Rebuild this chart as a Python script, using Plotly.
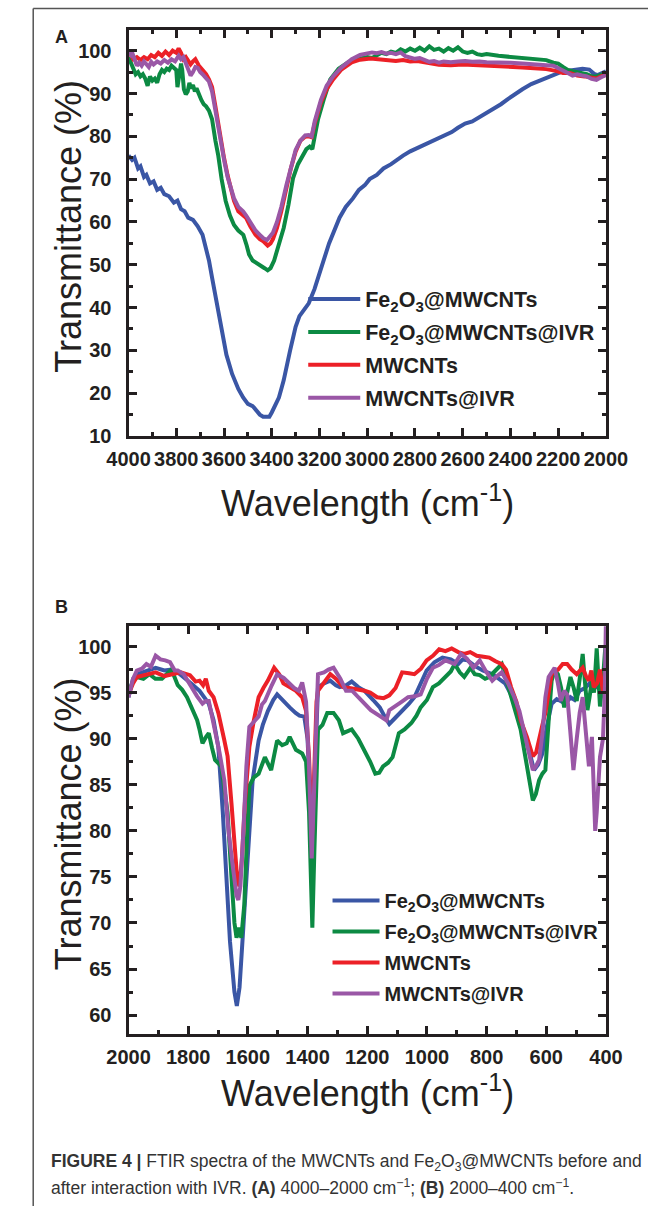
import plotly.graph_objects as go

# ---------------- Panel A : 4000-2000 cm-1 ----------------
a_fe_wn = [4000, 3985, 3975, 3960, 3950, 3935, 3925, 3910, 3895, 3880, 3865, 3850, 3830, 3810, 3795,
           3780, 3765, 3750, 3730, 3710, 3690, 3675, 3663, 3650, 3636, 3612, 3590, 3566, 3540, 3520,
           3500, 3480, 3465, 3450, 3436, 3420, 3410, 3400, 3385, 3370, 3360, 3350, 3323, 3300, 3284,
           3265, 3245, 3221, 3194, 3160, 3116, 3090, 3060, 3035, 3010, 2990, 2960, 2932, 2900, 2880,
           2850, 2820, 2790, 2763, 2730, 2700, 2670, 2646, 2620, 2590, 2560, 2528, 2500, 2470, 2440,
           2411, 2380, 2350, 2313, 2280, 2250, 2220, 2190, 2157, 2125, 2098, 2070, 2050, 2035, 2020, 2000]
a_fe_t = [75.5, 74.5, 75, 72.5, 73, 70.5, 71, 69, 69.5, 67.5, 68, 66.5, 66, 64.5, 65,
          63, 62.5, 61, 60.5, 59, 57, 54, 51, 47, 43, 35.5, 29, 24.5, 21, 19,
          17.5, 17, 16, 15, 14.5, 14.6, 14.5, 15.5, 17.5, 19, 21, 23, 30, 35.5, 38,
          39.5, 41, 44.3, 49.4, 55, 61, 63.5, 65.5, 67.5, 68.6, 70, 71, 72.5, 73.5, 74.4,
          75.5, 76.5, 77.3, 78, 79, 79.8, 80.5, 81, 82, 83, 83.5, 84.5, 85.5, 86.5, 87.5,
          88.7, 90, 91, 92.2, 93, 93.5, 94.2, 95, 95.3, 95.7, 95.8, 95.6, 94.6, 94.3, 94.8, 95.2]

a_feivr_wn = [4000, 3990, 3980, 3970, 3960, 3950, 3940, 3930, 3920, 3910, 3900, 3890, 3880, 3870, 3860,
              3850, 3840, 3830, 3820, 3810, 3800, 3795, 3788, 3780, 3775, 3768, 3760, 3752, 3745, 3738,
              3730, 3722, 3715, 3705, 3695, 3685, 3675, 3663, 3650, 3636, 3624, 3610, 3593, 3575, 3558,
              3540, 3519, 3505, 3495, 3480, 3456, 3440, 3430, 3417, 3405, 3390, 3370, 3350, 3330, 3311,
              3290, 3272, 3255, 3241, 3230, 3220, 3206, 3180, 3155, 3120, 3080, 3040, 3000, 2980, 2960,
              2940, 2920, 2900, 2880, 2860, 2840, 2820, 2800, 2780, 2760, 2740, 2720, 2700, 2680, 2660,
              2640, 2620, 2600, 2580, 2560, 2540, 2520, 2500, 2450, 2400, 2350, 2300, 2250, 2220, 2200,
              2180, 2160, 2140, 2120, 2100, 2080, 2060, 2040, 2020, 2000]
a_feivr_t = [98.5, 97, 95.5, 94.5, 95, 94, 94.5, 93.5, 91.8, 94, 93, 93.5, 92.5, 94.5, 95.5,
             95, 95.8, 95.5, 96.5, 96, 95.5, 91.5, 94, 97, 95.5, 91, 89.8, 90.5, 92.5, 91.2,
             92, 90.5, 91.2, 89.5, 88.5, 87.5, 87, 86, 84, 79, 75.5, 70, 64.9, 61.5, 59.3,
             58, 57, 54.5, 52.4, 51, 50, 49.5, 49.2, 48.7, 49.2, 51, 54.5, 58.6, 64, 70.2,
             73.5, 75.5, 77, 77.6, 77, 80, 84, 89, 93.3, 95.8, 97.3, 98, 98.5, 98.3, 98.8,
             99.5, 99.2, 99.8, 99.5, 100.3, 99.8, 100.5, 100, 100.7, 100, 101, 100.2, 100.5, 99.8, 100.6,
             100, 100.8, 99.8, 99.5, 99.8, 99.2, 99, 99.2, 98.8, 98.6, 98.3, 98, 97.8, 97.2, 97,
             96.2, 95.5, 95.2, 95, 94.8, 94.5, 94, 94, 94.4, 94.6]

a_mw_wn = [4000, 3990, 3980, 3965, 3950, 3935, 3920, 3905, 3890, 3875, 3860, 3845, 3830, 3815, 3800,
           3790, 3780, 3770, 3760, 3750, 3740, 3730, 3720, 3705, 3690, 3675, 3663, 3650, 3636, 3625,
           3612, 3600, 3585, 3570, 3558, 3540, 3520, 3507, 3490, 3468, 3450, 3435, 3417, 3405, 3395,
           3378, 3360, 3339, 3320, 3300, 3280, 3260, 3245, 3233, 3220, 3194, 3170, 3143, 3110, 3065,
           3030, 2986, 2950, 2920, 2880, 2850, 2820, 2790, 2760, 2730, 2700, 2650, 2600, 2550, 2500,
           2450, 2400, 2350, 2300, 2250, 2210, 2180, 2150, 2120, 2090, 2060, 2040, 2020, 2000]
a_mw_t = [99.5, 99, 98, 98.5, 97.8, 98.5, 98, 99, 98.5, 99.5, 98.8, 99.8, 99, 100, 99.5,
          100.5, 99.5, 98, 98.5, 97.5, 96.8, 97.5, 98, 96.5, 95.5, 94.5, 93.3, 91.5, 87, 83,
          79.4, 75, 70.9, 67, 64.9, 62.5, 61.5, 60.9, 59, 57, 56, 55.5, 54.5, 55, 56,
          58.6, 62.5, 67.9, 72.5, 76.4, 79, 79.9, 80, 79.8, 83, 88, 91, 93.3, 95.5, 97.3,
          97.9, 98.2, 98, 97.7, 97.6, 97.8, 97.5, 97.6, 97.2, 97, 96.7, 96.6, 96.8, 96.7, 96.6,
          96.4, 96.3, 96.1, 95.9, 95.7, 95.3, 94.8, 94.8, 94.2, 94, 93.8, 93.5, 94, 94.5]

a_mwivr_wn = [4000, 3990, 3985, 3975, 3965, 3955, 3945, 3935, 3925, 3915, 3905, 3895, 3880, 3865, 3850,
              3835, 3820, 3805, 3790, 3780, 3770, 3760, 3750, 3740, 3730, 3720, 3710, 3700, 3690, 3675,
              3663, 3650, 3636, 3625, 3612, 3598, 3585, 3570, 3558, 3540, 3520, 3507, 3490, 3468, 3450,
              3435, 3420, 3408, 3395, 3378, 3360, 3339, 3320, 3300, 3280, 3260, 3245, 3233, 3220, 3194,
              3170, 3143, 3110, 3065, 3030, 3000, 2980, 2960, 2940, 2920, 2900, 2880, 2860, 2840, 2820,
              2800, 2780, 2760, 2740, 2720, 2700, 2680, 2650, 2620, 2590, 2560, 2530, 2500, 2450, 2400,
              2350, 2300, 2250, 2220, 2200, 2180, 2160, 2140, 2120, 2100, 2080, 2060, 2040, 2020, 2000]
a_mwivr_t = [99.7, 99, 99.6, 98.2, 96.5, 97.2, 96.5, 97.5, 96.8, 96.2, 97.4, 96.8, 97.5, 97, 97.8,
             97.2, 98, 97.5, 98.8, 98, 98.5, 97.2, 95.5, 94.2, 95, 96.2, 96, 95, 94.5, 93.5,
             92.8, 90.5, 86, 82, 78.5, 74, 70.5, 67.5, 65.5, 63.5, 62.5, 61.5, 60, 58, 57,
             56.2, 55.8, 56.5, 57.5, 60, 63.5, 68.5, 73, 76.8, 79, 80.2, 80.3, 80, 83.5, 88.5,
             91.8, 94, 96, 98, 99, 99.3, 99.6, 99.4, 99.7, 99.3, 99.5, 99.2, 99.6, 98.7, 98.5,
             98.1, 98.3, 97.8, 97.4, 97.6, 97.2, 97.5, 97.3, 97.5, 97.6, 97.4, 97.5, 97.3, 97.3, 97.2,
             97, 96.9, 96.6, 96.5, 96, 95.5, 94.8, 94.2, 94.5, 94.2, 94, 93.4, 93.2, 93.8, 94.3]

# ---------------- Panel B : 2000-400 cm-1 ----------------
b_fe_wn = [2000, 1985, 1972, 1940, 1909, 1880, 1856, 1835, 1815, 1790, 1762, 1745, 1731, 1715, 1699,
           1684, 1674, 1660, 1645, 1637, 1628, 1618, 1605, 1595, 1584, 1564, 1550, 1533, 1515, 1502,
           1480, 1460, 1440, 1427, 1411, 1400, 1392, 1385, 1378, 1370, 1365, 1345, 1324, 1305, 1292,
           1270, 1252, 1230, 1209, 1180, 1158, 1140, 1126, 1105, 1083, 1060, 1042, 1020, 1001, 975,
           948, 920, 895, 880, 864, 840, 813, 780, 760, 738, 718, 697, 675, 655, 641,
           627, 613, 597, 582, 565, 550, 535, 519, 505, 488, 470, 447, 430, 415, 400]
b_fe_t = [94.5, 96.5, 97, 97.3, 97.7, 97.4, 97.5, 97.2, 96.7, 96, 95.2, 94.5, 93.8, 92, 89.1,
          82, 75.5, 68, 62.5, 61, 63, 68, 75.5, 81, 85.5, 89.8, 91.5, 93, 94.2, 94.8,
          94, 93.4, 92.8, 92.5, 92.4, 90, 84, 78, 84, 93, 95.6, 96, 96.3, 95.8, 95.6,
          95.8, 96.2, 95.6, 95.2, 94.2, 93.4, 92.3, 91.6, 92.3, 93, 93.8, 94.5, 96, 97.4, 98.3,
          98.8, 98.6, 98.1, 98.6, 98.5, 97.9, 97.4, 97, 96.5, 96, 94.8, 92.8, 90.5, 88.4, 86.6,
          87.2, 88.4, 91.5, 93.8, 94.3, 94, 93.8, 94.5, 94.2, 95.2, 95.5, 96.3, 95.6, 95.2, 95.5]

b_feivr_wn = [2000, 1985, 1972, 1950, 1930, 1910, 1888, 1870, 1856, 1835, 1820, 1804, 1783, 1770, 1762,
              1752, 1740, 1731, 1720, 1710, 1689, 1678, 1668, 1655, 1645, 1638, 1630, 1622, 1612, 1602,
              1595, 1580, 1564, 1543, 1530, 1522, 1512, 1502, 1485, 1470, 1460, 1450, 1439, 1418, 1405,
              1395, 1384, 1377, 1370, 1365, 1350, 1334, 1313, 1295, 1281, 1265, 1252, 1230, 1209, 1190,
              1173, 1160, 1147, 1130, 1115, 1094, 1075, 1052, 1035, 1021, 1000, 980, 960, 938, 920,
              907, 890, 875, 854, 840, 823, 805, 791, 770, 749, 735, 718, 700, 686, 670,
              655, 645, 635, 624, 613, 603, 592, 582, 572, 561, 550, 540, 530, 519, 508,
              498, 488, 478, 470, 462, 455, 447, 440, 431, 420, 410, 402]
b_feivr_t = [95, 96.2, 96.7, 96.5, 97, 96.5, 96.5, 97, 97.5, 95.8, 95.3, 94.5, 93.1, 92, 91,
             89.5, 90.2, 90.6, 89, 87.7, 87, 84.5, 82, 75, 70, 68.4, 69.5, 68.4, 72, 80,
             84.9, 85.8, 86.2, 88, 87, 86.6, 88.2, 89.8, 89.3, 89.5, 90.2, 89.4, 88.8, 88.4, 87.5,
             82, 69.5, 78, 88, 91, 91.5, 92.8, 92.8, 92, 90.6, 90.8, 91, 90, 88.8, 87.5,
             86.2, 86.3, 87, 87.4, 88, 90.6, 91, 91.7, 92.5, 93.4, 94.2, 95.6, 96, 96.7, 97.3,
             98.1, 97.2, 96.7, 97.7, 97, 96.9, 96.5, 96.7, 97.4, 98.1, 96.5, 94.5, 92.5, 91, 88,
             85.5, 83.3, 84, 85.5, 86.2, 86.6, 92, 96.3, 97.4, 97, 95.5, 93.4, 95, 96.7, 95.5,
             94.1, 96.5, 99.2, 96, 93.1, 94.5, 96.3, 95, 99.8, 93.5, 96.5, 100]

b_mw_wn = [2000, 1985, 1972, 1940, 1909, 1880, 1856, 1825, 1794, 1775, 1762, 1750, 1741, 1731, 1715,
           1699, 1680, 1668, 1655, 1645, 1635, 1628, 1620, 1610, 1595, 1580, 1564, 1548, 1533, 1512,
           1495, 1481, 1460, 1439, 1418, 1405, 1395, 1385, 1378, 1370, 1365, 1345, 1324, 1305, 1281,
           1260, 1240, 1209, 1190, 1167, 1145, 1126, 1105, 1083, 1060, 1042, 1020, 1001, 980, 959,
           938, 917, 895, 875, 855, 833, 810, 791, 770, 749, 735, 718, 700, 686, 665,
           645, 634, 624, 613, 603, 592, 582, 560, 545, 530, 515, 498, 488, 478, 467,
           457, 449, 441, 430, 420, 410, 400]
b_mw_t = [94.8, 96, 96.7, 96.9, 97.2, 96.8, 97, 97.2, 96.9, 96.2, 96.3, 95.8, 96.5, 95.2, 94.5,
          92.8, 90, 88.1, 83, 78, 74.5, 74, 77, 83, 89.1, 92, 94.5, 95.5, 96.3, 97.7,
          97, 96, 95.6, 95.2, 94.5, 93, 88, 79.5, 86, 94, 95.2, 96, 97, 96.5, 95.6,
          95.5, 95.4, 95.2, 95, 94.5, 94.4, 94.7, 95.5, 97.2, 97.1, 97, 97.6, 98.5, 99,
          99.7, 99.5, 99.8, 99.4, 99.2, 99.4, 99, 98.9, 98.8, 98.4, 98.1, 97.5, 95.6, 94, 92, 90.2,
          88.1, 88.5, 90.2, 91.5, 92.8, 95, 97, 97.5, 98.1, 98.1, 97.5, 97, 97.3, 97.7, 96.8,
          96.3, 97.4, 95.6, 96, 97.5, 95, 95.5]

b_mwivr_wn = [2000, 1985, 1972, 1955, 1940, 1925, 1909, 1893, 1877, 1861, 1845, 1835, 1815, 1794, 1770,
              1752, 1741, 1731, 1720, 1710, 1695, 1679, 1665, 1650, 1638, 1632, 1625, 1615, 1605, 1595,
              1580, 1564, 1553, 1543, 1520, 1502, 1480, 1460, 1445, 1429, 1418, 1405, 1395, 1386, 1378,
              1370, 1365, 1345, 1330, 1313, 1290, 1271, 1250, 1230, 1210, 1188, 1160, 1136, 1126, 1105,
              1085, 1063, 1040, 1021, 1000, 980, 960, 938, 920, 907, 886, 866, 844, 823, 802,
              781, 765, 749, 728, 707, 690, 676, 660, 645, 635, 624, 613, 603, 592, 582,
              572, 561, 551, 540, 530, 520, 509, 498, 488, 478, 467, 457, 447, 441, 436,
              431, 420, 410, 404, 400]
b_mwivr_t = [94.5, 96.5, 97.4, 97.6, 98.1, 97.8, 99, 98.6, 98.5, 98.3, 97.4, 97.4, 97, 95.8, 94.6,
             93.8, 94.1, 94.1, 92.5, 91, 88.5, 85.5, 80, 76, 73, 72.5, 74, 80, 87, 91.3,
             91.8, 92.4, 93.7, 94.1, 95.8, 97, 96.6, 96, 95.5, 95.2, 96.1, 94, 87, 77, 85,
             95, 97, 97.2, 97.5, 97.7, 96.5, 95.2, 95.2, 94.5, 93.8, 93.1, 92.5, 92, 93.1, 93.5,
             94, 94.5, 94.6, 94.8, 96.5, 97.7, 98, 98.5, 98.3, 98.1, 99.2, 98.7, 97.7, 98.5, 97.3,
             96.3, 96.8, 97.2, 96, 94.5, 93, 91, 88.5, 86.6, 87, 87.7, 90.5, 94.5, 96.7, 97.2,
             97.7, 96, 94.1, 95.2, 94.8, 91, 86.6, 90, 92.8, 94.5, 91, 87, 90.2, 85, 80,
             82, 88, 90, 95, 103]

names = ["Fe<sub>2</sub>O<sub>3</sub>@MWCNTs", "Fe<sub>2</sub>O<sub>3</sub>@MWCNTs@IVR",
         "MWCNTs", "MWCNTs@IVR"]
colors = ["#3a56a5", "#0c8a43", "#ec2027", "#9a57a6"]

panel_a = [(a_fe_wn, a_fe_t), (a_feivr_wn, a_feivr_t), (a_mw_wn, a_mw_t), (a_mwivr_wn, a_mwivr_t)]
panel_b = [(b_fe_wn, b_fe_t), (b_feivr_wn, b_feivr_t), (b_mw_wn, b_mw_t), (b_mwivr_wn, b_mwivr_t)]

W, H = 670, 1217


def px(x):
    return x / W


def py(y):
    return 1 - y / H


fig = go.Figure()
for i, (wn, t) in enumerate(panel_a):
    fig.add_trace(go.Scatter(x=wn, y=t, mode="lines", name=names[i],
                             line=dict(color=colors[i], width=4),
                             xaxis="x", yaxis="y", legend="legend", legendgroup="a%d" % i))
for i, (wn, t) in enumerate(panel_b):
    fig.add_trace(go.Scatter(x=wn, y=t, mode="lines", name=names[i],
                             line=dict(color=colors[i], width=4),
                             xaxis="x2", yaxis="y2", legend="legend2", legendgroup="b%d" % i))

ink = "#231f20"
tickfont = dict(family="Liberation Sans", size=20, color=ink, weight="bold")
common = dict(showline=True, linewidth=3, linecolor=ink, mirror="ticks", ticks="inside",
              ticklen=8, tickwidth=3, tickcolor=ink, showgrid=False, zeroline=False,
              tickfont=tickfont)
minor_x = dict(dtick=100, ticks="inside", ticklen=4, tickwidth=3, tickcolor=ink)

fig.update_layout(
    width=W, height=H, margin=dict(l=0, r=0, t=0, b=0),
    paper_bgcolor="white", plot_bgcolor="white",
    xaxis=dict(domain=[px(114), px(625)], anchor="y", range=[4000, 2000], dtick=200,
               minor=minor_x, ticklabelstandoff=3, **common),
    yaxis=dict(domain=[py(440), py(30)], anchor="x", range=[10, 104.9], dtick=10, tick0=10,
               minor=dict(dtick=5, ticks="inside", ticklen=4, tickwidth=3, tickcolor=ink),
               ticklabelstandoff=10, **common),
    xaxis2=dict(domain=[px(114), px(625)], anchor="y2", range=[2000, 400], dtick=200,
                minor=minor_x, ticklabelstandoff=3, **common),
    yaxis2=dict(domain=[py(1043), py(632)], anchor="x2", range=[58, 102.2], dtick=5, tick0=60,
                minor=dict(dtick=2.5, ticks="inside", ticklen=4, tickwidth=3, tickcolor=ink),
                ticklabelstandoff=10, **common),
    legend=dict(x=px(301), y=py(281), xanchor="left", yanchor="top", bgcolor="rgba(0,0,0,0)",
                font=dict(family="Liberation Sans", size=21.5, color=ink, weight="bold"),
                tracegroupgap=2, itemwidth=52),
    legend2=dict(x=px(327), y=py(889), xanchor="left", yanchor="top", bgcolor="rgba(0,0,0,0)",
                 font=dict(family="Liberation Sans", size=20, color=ink, weight="bold"),
                 tracegroupgap=2, itemwidth=47),
)

title_font = dict(family="Liberation Sans", size=36, color=ink)
ann = [
    dict(text="<b>A</b>", x=px(42), y=py(37), font=dict(family="Liberation Sans", size=18, color=ink)),
    dict(text="<b>B</b>", x=px(42), y=py(613), font=dict(family="Liberation Sans", size=18, color=ink)),
    dict(text="Wavelength (cm<sup>-1</sup>)", x=px(370), y=py(506), font=title_font),
    dict(text="Wavelength (cm<sup>-1</sup>)", x=px(370), y=py(1101), font=title_font),
    dict(text="Transmittance (%)", x=px(50), y=py(228), textangle=-90, font=title_font),
    dict(text="Transmittance (%)", x=px(50), y=py(831), textangle=-90, font=title_font),
]
for a in ann:
    fig.add_annotation(xref="paper", yref="paper", showarrow=False,
                       xanchor="center", yanchor="middle", **a)

cap_font = dict(family="Liberation Sans", size=17.5, color="#333333")
caption_lines = [
    ("<b>FIGURE 4 |</b> FTIR spectra of the MWCNTs and Fe<sub>2</sub>O<sub>3</sub>@MWCNTs before and", 1173),
    ("after interaction with IVR. <b>(A)</b> 4000–2000 cm<sup>−1</sup>; "
     "<b>(B)</b> 2000–400 cm<sup>−1</sup>.", 1198),
]
for text, yy in caption_lines:
    fig.add_annotation(xref="paper", yref="paper", showarrow=False, text=text, align="left",
                       x=px(29), y=py(yy), xanchor="left", yanchor="middle", font=cap_font)

# figure frame (left and top edges)
fig.add_shape(type="line", xref="paper", yref="paper", x0=px(12), x1=1, y0=py(8.5), y1=py(8.5),
              line=dict(color="#555555", width=1.5))
fig.add_shape(type="line", xref="paper", yref="paper", x0=px(12), x1=px(12), y0=py(8.5), y1=0,
              line=dict(color="#555555", width=1.5))

# pin the figure to the page corner (no default body margin)
fig.write_html("out.html", config={"displayModeBar": False},
               post_script="document.body.style.margin='0';document.body.style.overflow='hidden';")
